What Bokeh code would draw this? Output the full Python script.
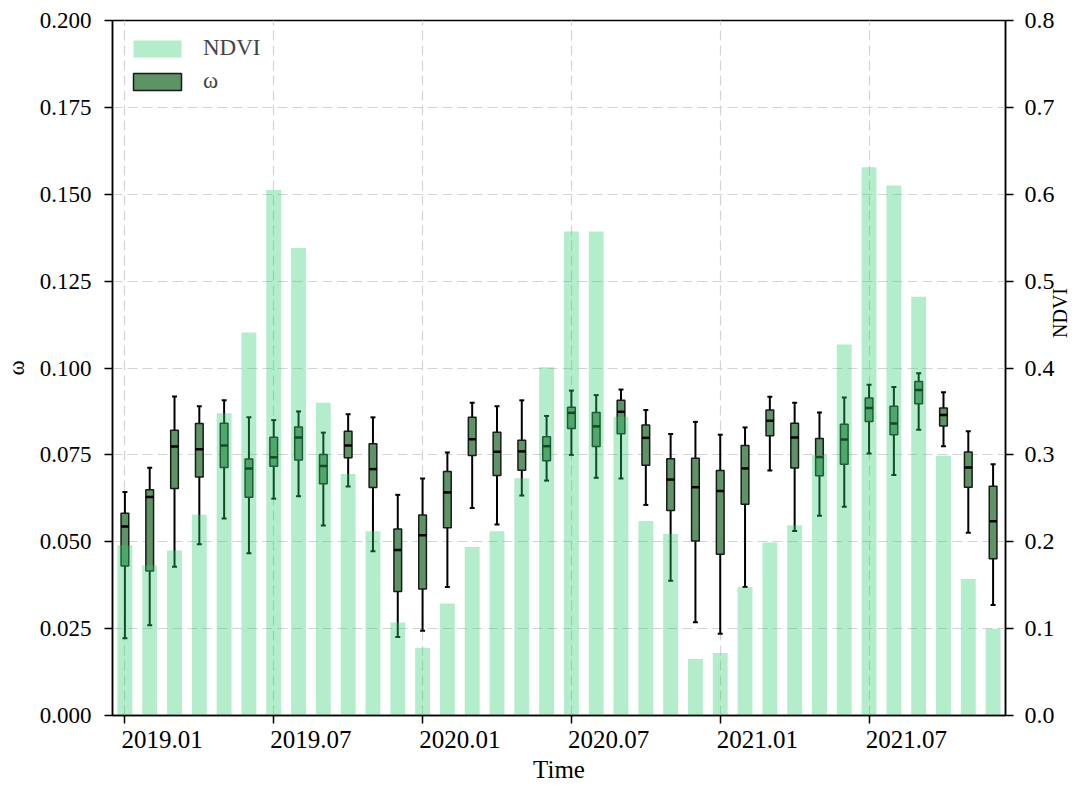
import math
from bokeh.plotting import figure
from bokeh.models import (Range1d, LinearAxis, FixedTicker, ColumnDataSource,
                          Legend, LegendItem, NumeralTickFormatter)
from bokeh.embed import file_html
from bokeh.resources import INLINE

months = ["2019.01", "2019.02", "2019.03", "2019.04", "2019.05", "2019.06",
          "2019.07", "2019.08", "2019.09", "2019.10", "2019.11", "2019.12",
          "2020.01", "2020.02", "2020.03", "2020.04", "2020.05", "2020.06",
          "2020.07", "2020.08", "2020.09", "2020.10", "2020.11", "2020.12",
          "2021.01", "2021.02", "2021.03", "2021.04", "2021.05", "2021.06",
          "2021.07", "2021.08", "2021.09", "2021.10", "2021.11", "2021.12"]

ndvi = [0.196, 0.173, 0.190, 0.231, 0.348, 0.441, 0.605, 0.538, 0.360, 0.278,
        0.212, 0.107, 0.078, 0.129, 0.194, 0.212, 0.273, 0.401, 0.557, 0.557,
        0.344, 0.224, 0.209, 0.065, 0.072, 0.148, 0.199, 0.219, 0.300, 0.427,
        0.631, 0.610, 0.482, 0.299, 0.157, 0.100]

w_low = [0.0222, 0.0260, 0.0428, 0.0493, 0.0567, 0.0467, 0.0624, 0.0631, 0.0547,
         0.0659, 0.0473, 0.0226, 0.0244, 0.0370, 0.0597, 0.0550, 0.0633, 0.0676,
         0.0750, 0.0684, 0.0682, 0.0606, 0.0388, 0.0268, 0.0235, 0.0370, 0.0705,
         0.0531, 0.0575, 0.0601, 0.0754, 0.0692, 0.0822, 0.0775, 0.0526, 0.0318]
w_q1 = [0.0430, 0.0416, 0.0653, 0.0686, 0.0714, 0.0628, 0.0717, 0.0735, 0.0667,
        0.0742, 0.0656, 0.0357, 0.0364, 0.0540, 0.0748, 0.0691, 0.0706, 0.0733,
        0.0826, 0.0774, 0.0811, 0.0720, 0.0590, 0.0502, 0.0464, 0.0608, 0.0805,
        0.0712, 0.0690, 0.0723, 0.0846, 0.0808, 0.0897, 0.0833, 0.0657, 0.0451]
w_med = [0.0544, 0.0629, 0.0774, 0.0766, 0.0777, 0.0711, 0.0743, 0.0800, 0.0718,
         0.0777, 0.0709, 0.0476, 0.0519, 0.0642, 0.0795, 0.0759, 0.0760, 0.0775,
         0.0871, 0.0832, 0.0874, 0.0799, 0.0679, 0.0657, 0.0646, 0.0711, 0.0848,
         0.0800, 0.0744, 0.0794, 0.0885, 0.0840, 0.0937, 0.0865, 0.0714, 0.0559]
w_q3 = [0.0582, 0.0650, 0.0821, 0.0840, 0.0841, 0.0738, 0.0801, 0.0830, 0.0751,
        0.0818, 0.0782, 0.0537, 0.0577, 0.0702, 0.0858, 0.0815, 0.0792, 0.0802,
        0.0887, 0.0872, 0.0907, 0.0836, 0.0739, 0.0740, 0.0705, 0.0777, 0.0879,
        0.0841, 0.0797, 0.0838, 0.0914, 0.0890, 0.0961, 0.0885, 0.0758, 0.0660]
w_high = [0.0643, 0.0713, 0.0918, 0.0890, 0.0907, 0.0858, 0.0850, 0.0875, 0.0814,
          0.0867, 0.0858, 0.0635, 0.0682, 0.0757, 0.0900, 0.0890, 0.0907, 0.0862,
          0.0935, 0.0922, 0.0938, 0.0879, 0.0810, 0.0845, 0.0808, 0.0829, 0.0917,
          0.0900, 0.0872, 0.0915, 0.0952, 0.0945, 0.0985, 0.0930, 0.0818, 0.0723]

tick_idx = [0, 6, 12, 18, 24, 30]

FONT = "Liberation Serif"

x = list(range(len(months)))
box_w = 0.31
cap_w = 0.2

src = ColumnDataSource(dict(
    x=x, ndvi=ndvi, low=w_low, q1=w_q1, med=w_med, q3=w_q3, high=w_high,
    bl=[i - box_w / 2 for i in x], br=[i + box_w / 2 for i in x],
    cl=[i - cap_w / 2 for i in x], cr=[i + cap_w / 2 for i in x],
))

p = figure(width=1084, height=785, output_backend="svg", toolbar_location=None,
           x_range=Range1d(-0.5, 35.5), y_range=Range1d(0, 0.2),
           min_border_left=112, min_border_right=78, min_border_top=20,
           min_border_bottom=70)
p.extra_y_ranges = {"ndvi": Range1d(0, 0.8)}

# box plots (drawn first, bars overlay them)
p.segment(x0="x", y0="q3", x1="x", y1="high", source=src, line_color="black", line_width=2)
p.segment(x0="x", y0="low", x1="x", y1="q1", source=src, line_color="black", line_width=2)
p.segment(x0="cl", y0="high", x1="cr", y1="high", source=src, line_color="black", line_width=2)
p.segment(x0="cl", y0="low", x1="cr", y1="low", source=src, line_color="black", line_width=2)
box = p.vbar(x="x", top="q3", bottom="q1", width=box_w, source=src,
             fill_color="#5e9366", line_color="#1a1a1a", line_width=1.5)
p.segment(x0="bl", y0="med", x1="br", y1="med", source=src, line_color="black", line_width=2.5)

bars = p.vbar(x="x", top="ndvi", bottom=0, width=0.6, source=src, y_range_name="ndvi",
              fill_color="#2ecc71", fill_alpha=0.36, line_color=None)


def style(ax, fs):
    ax.axis_line_width = 1.5
    ax.axis_line_color = "black"
    ax.major_tick_line_width = 1.5
    ax.major_tick_line_color = "black"
    ax.major_tick_out = 8
    ax.major_tick_in = 0
    ax.minor_tick_line_color = None
    ax.major_label_text_font = FONT
    ax.major_label_text_font_size = fs
    ax.major_label_text_color = "black"
    ax.axis_label_text_font = FONT
    ax.axis_label_text_font_size = fs
    ax.axis_label_text_font_style = "normal"
    ax.axis_label_text_color = "black"


# bottom axis: tick marks as minor ticks at the months, labels starting at them
lab_off = 1.5
lab_pos = [i + lab_off for i in tick_idx]
xax = p.xaxis[0]
style(xax, "25px")
xax.ticker = FixedTicker(ticks=lab_pos, minor_ticks=tick_idx)
xax.major_label_overrides = {lab_pos[k]: months[tick_idx[k]] for k in range(len(tick_idx))}
xax.major_tick_line_color = None
xax.major_tick_out = 0
xax.minor_tick_line_color = "black"
xax.minor_tick_line_width = 1.5
xax.minor_tick_out = 8
xax.minor_tick_in = 0
xax.major_label_standoff = 7
xax.axis_label = "Time"
xax.axis_label_standoff = 5

yax = p.yaxis[0]
style(yax, "23px")
yax.ticker = FixedTicker(ticks=[0, 0.025, 0.05, 0.075, 0.1, 0.125, 0.15, 0.175, 0.2])
yax.formatter = NumeralTickFormatter(format="0.000")
yax.axis_label = "ω"
yax.major_label_standoff = 13
yax.axis_label_standoff = 8

rax = LinearAxis(y_range_name="ndvi", axis_label="\u2007\u2007\u2007NDVI",
                 ticker=FixedTicker(ticks=[0, 0.1, 0.2, 0.3, 0.4, 0.5, 0.6, 0.7, 0.8]),
                 formatter=NumeralTickFormatter(format="0.0"))
style(rax, "24px")
rax.major_label_standoff = 11
rax.axis_label_text_font_size = "20px"
rax.axis_label_standoff = 2
rax.axis_label_text_baseline = "top"
rax.axis_label_text_align = "center"
if "axis_label_orientation" in rax.properties():
    rax.axis_label_orientation = math.pi / 2
p.add_layout(rax, "right")

# grid
p.xgrid.ticker = FixedTicker(ticks=tick_idx)
for g in (p.xgrid, p.ygrid):
    g.grid_line_color = "#d3d3d3"
    g.grid_line_dash = "10 5"
    g.grid_line_width = 1.2

p.outline_line_color = "black"
p.outline_line_width = 1.5
p.background_fill_color = "white"
p.border_fill_color = "white"

legend = Legend(items=[LegendItem(label="NDVI", renderers=[bars]),
                       LegendItem(label="ω", renderers=[box])],
                location="top_left")
legend.label_text_font = FONT
legend.label_text_font_size = "23px"
legend.glyph_width = 60
legend.glyph_height = 21
legend.label_height = 21
legend.label_standoff = 16
legend.spacing = 7
legend.margin = 15
legend.padding = 7
legend.border_line_color = None
legend.background_fill_alpha = 0
p.add_layout(legend)

open("out.html", "w").write(file_html(p, INLINE))
